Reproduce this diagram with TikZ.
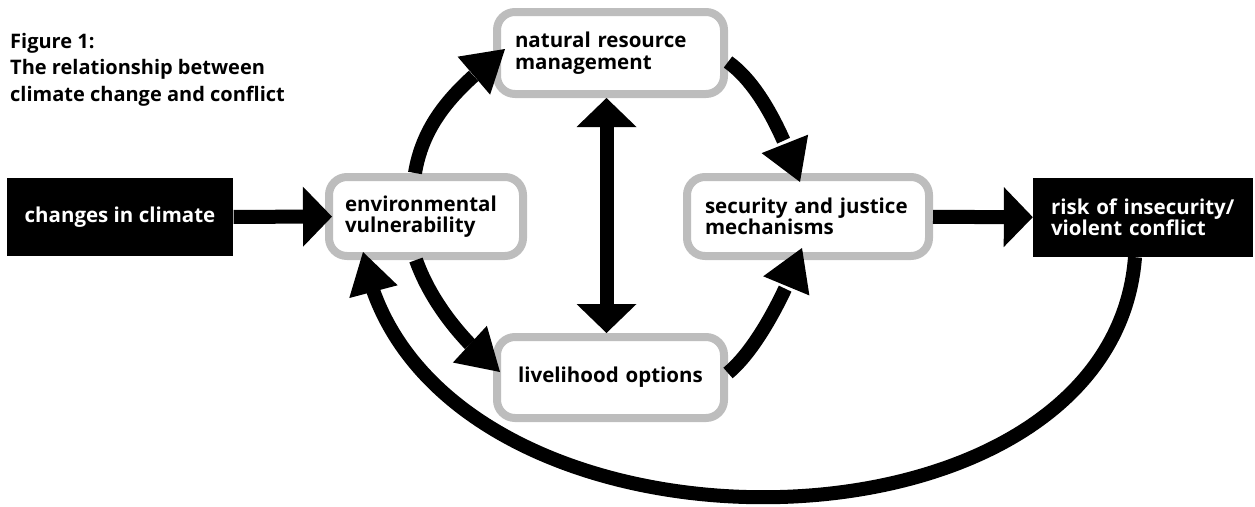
\documentclass[tikz,border=0pt]{standalone}
\usepackage{fontspec}
\setmainfont{Open Sans}
\usetikzlibrary{arrows.meta,bending}
\definecolor{boxgray}{HTML}{BDBDBD}
\tikzset{
  x=1pt, y=-1pt,
  txt/.style={font=\fontsize{20.5pt}{21.5pt}\selectfont\bfseries},
  stage/.style={txt, draw=boxgray, line width=8pt, rounded corners=18pt,
    fill=white, inner xsep=18pt, inner ysep=0pt, align=left},
  blackbox/.style={txt, fill=black, text=white, inner xsep=18pt, inner ysep=0pt},
  flow/.style={line width=14pt, draw=black,
    -{Triangle[length=29pt,width=60pt,line width=0pt]}},
  twoway/.style={line width=14pt, draw=black,
    {Triangle[length=29pt,width=60pt,line width=0pt]}-{Triangle[length=29pt,width=60pt,line width=0pt]}},
  loop/.style={line width=14pt, draw=black,
    -{Triangle[length=41pt,width=50pt,line width=0pt,flex]}},
}
\begin{document}
\begin{tikzpicture}
\useasboundingbox (0,0) rectangle (1255,506);

% caption
\node[anchor=north west, inner sep=0pt, align=left,
      font=\fontsize{20pt}{26.5pt}\selectfont\bfseries] (title) at (10,33)
  {Figure 1:\\The relationship between\\climate change and conflict};

% boxes
\node[blackbox, minimum width=224pt, minimum height=78pt, align=center] (cc) at (120,217)
  {changes in climate};
\node[stage, inner xsep=16pt, text width=162pt, minimum height=79pt] (env) at (426,216.5)
  {environmental\\vulnerability};
\node[stage, text width=191pt, minimum height=82pt] (nrm) at (610.5,53)
  {natural resource\\management};
\node[stage, text width=206pt, minimum height=79pt] (sec) at (808,216.5)
  {security and justice\\mechanisms};
\node[stage, text width=191pt, minimum height=81pt, align=center] (liv) at (610.5,377.5)
  {livelihood options};
\node[blackbox, text width=184pt, minimum height=79pt, align=left] (risk) at (1143,217.5)
  {risk of insecurity/\\violent conflict};

% straight links
\draw[flow, shorten >=-7pt] (cc) -- (env);
\draw[flow] (sec) -- (risk);
\draw[twoway] ([shift={(-4,0)}]nrm.south) -- ([shift={(-4,0)}]liv.north);

% curved links
\draw[loop] ([shift={(-11,0)}]env.north) .. controls +(10,-60) and +(-38,32) .. ([shift={(12,-4)}]nrm.west);
\draw[loop] ([shift={(0,9)}]nrm.east) .. controls +(35,25) and +(-14,-39) .. ([shift={(-8,9)}]sec.north);
\draw[loop] ([shift={(-10,0)}]env.south) .. controls +(15,42) and +(-38,-31) .. ([shift={(7,-5.5)}]liv.west);
\draw[loop] ([shift={(0,-4.5)}]liv.east) .. controls +(30,-25) and +(-15,42) .. ([shift={(-6,-12)}]sec.south);
\draw[loop] ([shift={(-8,0)}]risk.south) .. controls +(-25,321) and +(57,326) .. ([shift={(-63,-8)}]env.south);
\end{tikzpicture}
\end{document}
